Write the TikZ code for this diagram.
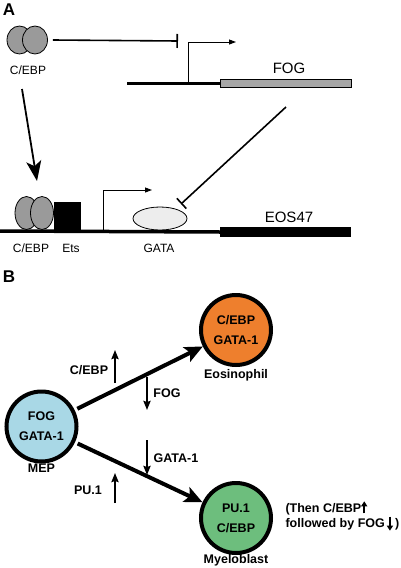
\documentclass[tikz,border=0pt]{standalone}
\usepackage{fontspec}
\setmainfont{Liberation Sans}
\usepackage{tikz}
\usetikzlibrary{arrows.meta,positioning,shapes.geometric}
\definecolor{mepblue}{HTML}{A9D8E6}
\definecolor{eosorange}{HTML}{EE7F2D}
\definecolor{myelogreen}{HTML}{6DBE7D}
\definecolor{proteingrey}{HTML}{9A9A9A}
\definecolor{fogboxgrey}{HTML}{A6A6A6}
\definecolor{gatagrey}{HTML}{EDEDED}

\tikzset{
    subunit/.style={ellipse, draw=black, line width=0.8pt, fill=proteingrey, minimum width=25pt, minimum height=28pt, inner sep=0pt},
    smalllabel/.style={font=\fontsize{12}{14}\selectfont},
    genelabel/.style={font=\fontsize{15}{18}\selectfont},
    panellabel/.style={font=\bfseries\fontsize{17}{20}\selectfont},
    cellnode/.style={circle, draw=black, line width=4pt, minimum size=70pt, inner sep=0pt, align=center, font=\bfseries\fontsize{12.5}{20}\selectfont},
    boldlabel/.style={font=\bfseries\fontsize{12.5}{14}\selectfont},
    promoter/.style={line width=0.9pt, -{Triangle[length=7pt,width=5pt]}},
    inhibit/.style={line width=1.6pt, -{Bar[width=14pt]}},
    activate/.style={line width=1.8pt, -{Stealth[length=20pt,width=15pt,inset=5pt]}},
    fate/.style={line width=4pt, shorten <=3pt, -{Stealth[length=18pt,width=16pt,inset=4pt]}},
    trend/.style={line width=2pt, -{Stealth[length=9pt,width=7pt,inset=1pt]}}
}
\newcommand{\upmark}{\tikz[baseline=0pt]\draw[line width=1.6pt,-{Stealth[length=5pt,width=6pt,inset=0pt]}] (0pt,-1pt) -- (0pt,11pt);}
\newcommand{\downmark}{\tikz[baseline=0pt]\draw[line width=1.6pt,-{Stealth[length=5pt,width=6pt,inset=0pt]}] (0pt,11pt) -- (0pt,-3pt);}

\begin{document}
\begin{tikzpicture}[x=1pt, y=-1pt]
    \useasboundingbox (0,0) rectangle (400,568);

    % Panel A
    \node[panellabel] (panelA) at (9,10) {A};

    % C/EBP dimer (top)
    \node[subunit] (cebpL) at (19.5,40) {};
    \node[subunit] (cebpR) at (35,40) {};
    \node[smalllabel] (cebpLbl) at (28,70) {C/EBP};

    % C/EBP represses FOG
    \coordinate (fogBlock) at (178,41);
    \draw[inhibit] ([xshift=5pt]cebpR.east) -- (fogBlock);

    % FOG gene
    \coordinate (fogStart) at (127,83);
    \node[draw=black, line width=0.6pt, fill=fogboxgrey, minimum width=131pt, minimum height=8pt, inner sep=0pt, anchor=west] (fogBox) at (220,83) {};
    \draw[line width=3pt] (fogStart) -- (fogBox.west);
    \coordinate (fogTss) at (188,83);
    \coordinate (fogTssEnd) at (236,42);
    \draw[promoter] (fogTss) |- (fogTssEnd);
    \node[genelabel] (fogLbl) at (289,68) {FOG};

    % C/EBP activates EOS47
    \coordinate (actStart) at (22,89);
    \coordinate (actEnd) at (37,181);
    \draw[activate] (actStart) -- (actEnd);

    % FOG represses GATA
    \coordinate (repStart) at (286,107);
    \coordinate (gataBlock) at (181,204);
    \draw[inhibit] (repStart) -- (gataBlock);

    % EOS47 gene
    \coordinate (eosStart) at (0,231);
    \node[fill=black, minimum width=131pt, minimum height=10pt, inner sep=0pt, anchor=west] (eosBox) at (220,232) {};
    \draw[line width=3.5pt] (eosStart) -- (eosBox.west);

    % Factors bound to EOS47 promoter
    \node[subunit, minimum width=23pt, minimum height=33pt] (dimerL) at (26.5,213) {};
    \node[subunit, minimum width=23pt, minimum height=33pt] (dimerR) at (42,213) {};
    \node[fill=black, minimum width=27pt, minimum height=28pt, inner sep=0pt, anchor=south west] (ets) at (54,230) {};
    \node[ellipse, draw=black, line width=0.8pt, fill=gatagrey, minimum width=54pt, minimum height=23pt, inner sep=0pt] (gata) at (160,218.5) {};
    \coordinate (eosTss) at (103,230);
    \coordinate (eosTssEnd) at (152,190);
    \draw[promoter] (eosTss) |- (eosTssEnd);

    % Labels under EOS47
    \node[smalllabel] (dimerLbl) at (31,248) {C/EBP};
    \node[smalllabel] (etsLbl) at (71,248) {Ets};
    \node[smalllabel] (gataLbl) at (159,248) {GATA};
    \node[genelabel] (eosLbl) at (289,217) {EOS47};

    % Panel B
    \node[panellabel] (panelB) at (9,277) {B};

    % Cells
    \node[cellnode, fill=mepblue] (mep) at (41.5,426.5) {FOG\\GATA-1};
    \node[cellnode, fill=eosorange] (eos) at (236,330) {C/EBP\\GATA-1};
    \node[cellnode, fill=myelogreen] (myelo) at (236,518) {PU.1\\C/EBP};
    \node[boldlabel] (mepLbl) at (41.5,468) {MEP};
    \node[boldlabel] (eosCellLbl) at (236,375) {Eosinophil};
    \node[boldlabel] (myeloLbl) at (236,560) {Myeloblast};

    % Lineage choices
    \draw[fate] (mep) -- (eos);
    \draw[fate] (mep) -- (myelo);

    % Factor levels along each path
    \coordinate (cebpUp) at (115,383);
    \draw[trend] (cebpUp) -- ++(0,-33);
    \node[boldlabel] (cebpUpLbl) at (89,370) {C/EBP};
    \coordinate (fogDown) at (147,377);
    \draw[trend] (fogDown) -- ++(0,33);
    \node[boldlabel] (fogDownLbl) at (167,393) {FOG};
    \coordinate (gataDown) at (147,440);
    \draw[trend] (gataDown) -- ++(0,35);
    \node[boldlabel] (gataDownLbl) at (176,458) {GATA-1};
    \coordinate (puUp) at (115,503);
    \draw[trend] (puUp) -- ++(0,-30);
    \node[boldlabel] (puUpLbl) at (88,490) {PU.1};

    % Later steps for myeloblast
    \node[boldlabel, align=left, anchor=west] (note) at (282,516) {(Then C/EBP\upmark\\followed by FOG\,\downmark\,)};
\end{tikzpicture}
\end{document}
